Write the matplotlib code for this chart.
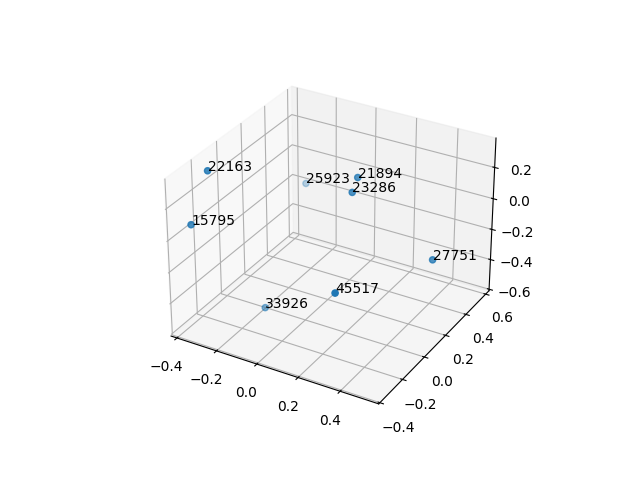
import matplotlib
matplotlib.use('Agg')
import matplotlib.pyplot as plt

labels = ['22163', '15795', '25923', '21894', '23286', '27751', '45517', '33926']
xs = [-0.35, -0.377, -0.33, 0.146, 0.158, 0.513, 0.315, -0.185]
ys = [-0.2, -0.3, 0.585, 0.2, 0.13, 0.19, -0.3, -0.03]
zs = [0.343, 0.058, -0.196, 0.24, 0.193, -0.138, -0.101, -0.583]

fig = plt.figure()
ax = fig.add_subplot(projection='3d')
ax.scatter(xs, ys, zs)
for x, y, z, s in zip(xs, ys, zs, labels):
    ax.text(x, y, z, s)
ax.set_xlim(-0.43, 0.58)
ax.set_ylim(-0.41, 0.635)
ax.set_zlim(-0.61, 0.385)
fig.savefig('out.png')
